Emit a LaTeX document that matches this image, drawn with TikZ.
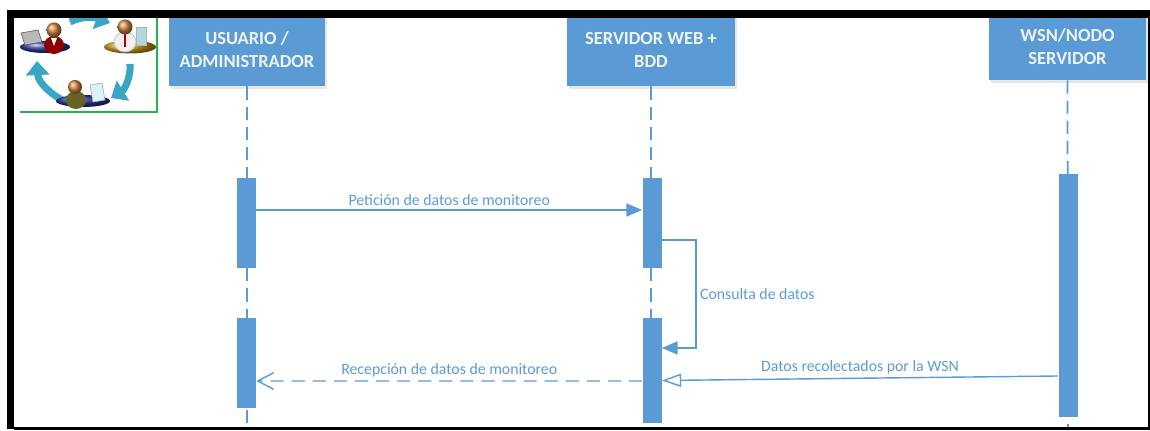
\documentclass[tikz,border=0pt]{standalone}
\usepackage{fontspec}
\setmainfont{Carlito}
\usepackage{tikz}
\usetikzlibrary{arrows.meta}
\usetikzlibrary{positioning}
\usetikzlibrary{calc}
\usetikzlibrary{shadows}
\definecolor{umlblue}{HTML}{5B9BD5}
\definecolor{umltext}{HTML}{EEF3F8}
\definecolor{flowteal}{HTML}{3AA6C6}
\definecolor{skin}{HTML}{D7833E}
\definecolor{discblue}{HTML}{2A3C9C}
\definecolor{discgold}{HTML}{D9A521}
\definecolor{framegreen}{HTML}{22B550}

\tikzset{
	actor/.style={fill=umlblue, text=umltext, align=center, inner sep=0pt,
		font=\fontsize{10.5}{13}\selectfont\bfseries,
		drop shadow={shadow xshift=1pt, shadow yshift=-1.5pt, opacity=.2}},
	actbar/.style={fill=umlblue, minimum width=.38cm, inner sep=0pt},
	lifeline/.style={umlblue, line width=1pt, dash pattern=on 7.5pt off 4pt},
	msg/.style={umlblue, line width=.8pt, -{Triangle[length=9pt,width=7.5pt]}},
	answer/.style={umlblue, line width=.8pt, -{Triangle[open,length=11pt,width=7.5pt,fill=white]}},
	reply/.style={umlblue, line width=.8pt, dash pattern=on 7.5pt off 4.5pt, -{Straight Barb[length=9pt,width=9.5pt]}},
	msglabel/.style={text=umlblue, font=\fontsize{9}{11}\selectfont, inner sep=2pt},
	flow/.style={flowteal, line width=4pt, -{Triangle[length=8pt,width=13pt]}},
}

\begin{document}
\begin{tikzpicture}[x=.02cm, y=-.02cm]
	\useasboundingbox (0,0) rectangle (1150,431);
	
	%coordinates
	\coordinate (usrEnd) at (247,428);
	\coordinate (srvEnd) at (651,428);
	\coordinate (wsnEnd) at (1068,428);
	
	%nodes
	\node[actor, minimum width=3.12cm, minimum height=1.44cm] (usr) at (247,50) {USUARIO /\\ADMINISTRADOR};
	\node[actor, minimum width=3.36cm, minimum height=1.44cm] (srv) at (651,50) {SERVIDOR WEB +\\BDD};
	\node[actor, minimum width=3.14cm, minimum height=1.32cm] (wsn) at (1067.5,47) {WSN/NODO\\SERVIDOR};
	
	%lifelines
	\draw[lifeline] (usr.south) -- (usrEnd);
	\draw[lifeline] (srv.south) -- (srvEnd);
	\draw[lifeline] (wsn.south) -- (wsnEnd);
	
	%activation bars
	\node[actbar, minimum height=1.8cm] (usrA) at (246.5,223) {};
	\node[actbar, minimum height=1.8cm] (usrB) at (246.5,363) {};
	\node[actbar, minimum height=1.8cm] (srvA) at (652,223) {};
	\node[actbar, minimum height=2.1cm] (srvB) at (652,370.5) {};
	\node[actbar, minimum height=4.86cm] (wsnA) at (1068,295.5) {};
	
	%messages
	\draw[msg] ($(usrA.east) + (0,-13)$) -- node[msglabel, above]{Petición de datos de monitoreo} ($(srvA.west) + (0,-13)$);
	\draw[msg] ($(srvA.east) + (0,17)$) -- ++(34,0) |- node[msglabel, right, pos=0.25]{Consulta de datos} ($(srvB.east) + (0,-22.5)$);
	\draw[answer] ($(wsnA.west) + (0,80.5)$) -- node[msglabel, above, pos=0.5]{Datos recolectados por la WSN} ($(srvB.east) + (0,10)$);
	\draw[reply] ($(srvB.west) + (0,10.5)$) -- node[msglabel, above]{Recepción de datos de monitoreo} ($(usrB.east) + (0,18)$);
	
	%icon, top left
	\begin{scope}
		\clip (20,18) rectangle (157,112);
		% arrows between the three stations
		\draw[flow] (70,22) .. controls (82,16) and (94,17) .. (110,23);
		\draw[flow] (130,64) .. controls (131,78) and (124,90) .. (111,98);
		\draw[flow] (64,101) .. controls (50,94) and (38,82) .. (37,61);
		% left station
		\shade[ball color=discblue] (45,47) ellipse [x radius=25, y radius=6];
		\fill[gray!55, draw=gray!80!black] (21,33) -- (38,30) -- (42,42) -- (25,45) -- cycle;
		\fill[red!55!black] (54,45) ellipse [x radius=10, y radius=9];
		\fill[white] (51,38) -- (57,38) -- (54,46) -- cycle;
		\shade[ball color=skin] (54,30) circle [radius=7.5];
		% right station
		\shade[ball color=discgold] (130,47) ellipse [x radius=26, y radius=6.5];
		\fill[gray!12, draw=gray!50] (125,42) ellipse [x radius=11, y radius=10];
		\fill[red!70!black] (124,34) -- (126,34) -- (126,47) -- (124,47) -- cycle;
		\shade[ball color=skin] (125,27) circle [radius=7.5];
		\fill[teal!30, draw=gray!60] (136,27) rectangle (146,45);
		% bottom station
		\shade[ball color=discblue] (83,101) ellipse [x radius=27, y radius=6];
		\fill[olive!65!black] (76,100) ellipse [x radius=10, y radius=9];
		\shade[ball color=skin] (75,87) circle [radius=7];
		\fill[cyan!15, draw=gray!60] (90,85) -- (102,83) -- (105,100) -- (93,102) -- cycle;
	\end{scope}
	\draw[framegreen, line width=.8pt] (20,112) -- (157,112) -- (157,18);
	
	%frame
	\fill[black] (7,10) rectangle (1150,18);
	\fill[black] (7,10) rectangle (14,429);
	\draw[black, line width=1.2pt] (14,428.5) -- (1149,428.5) -- (1149,18);
\end{tikzpicture}
\end{document}
